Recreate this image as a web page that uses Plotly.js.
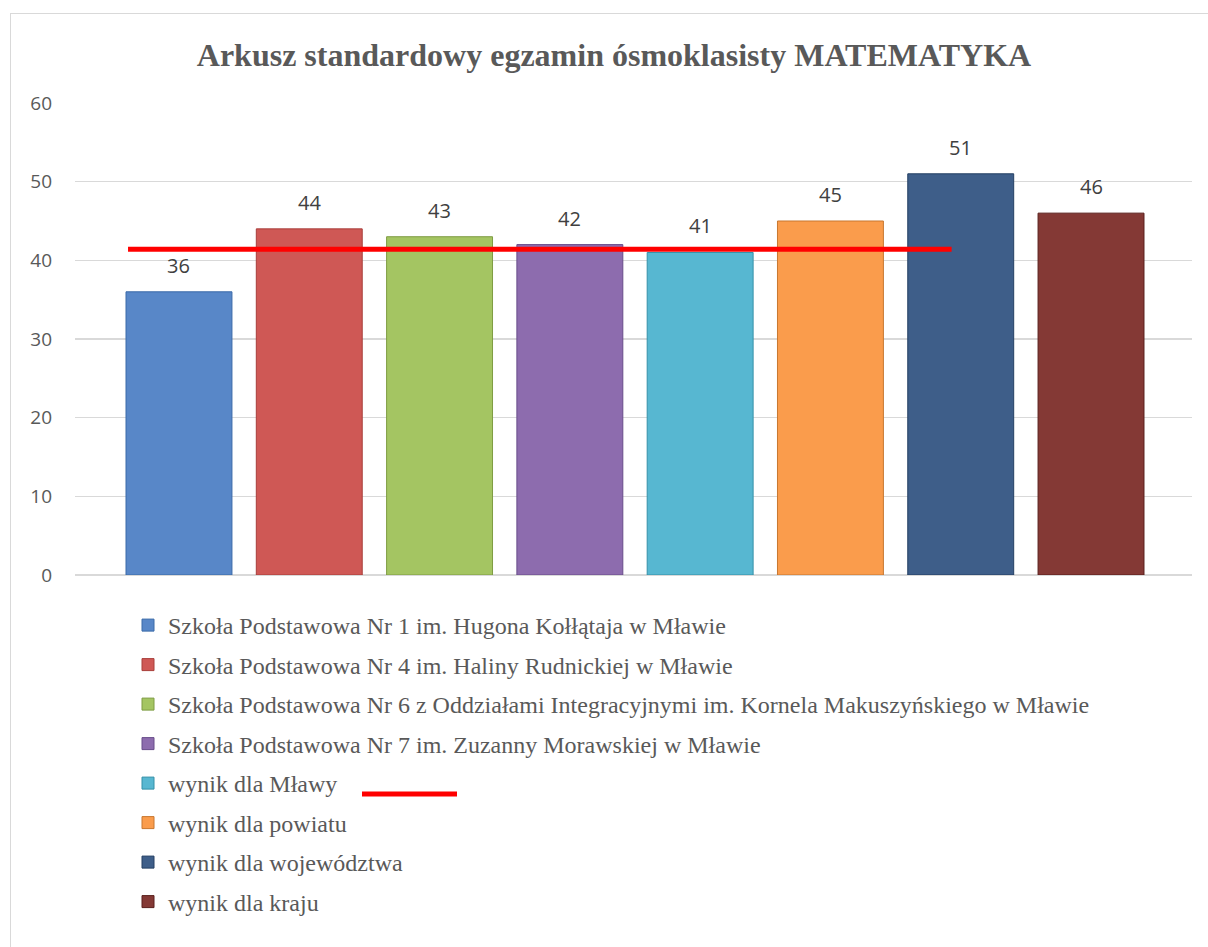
<!DOCTYPE html>
<html>
<head>
<meta charset="utf-8">
<script src="https://cdn.plot.ly/plotly-3.0.1.min.js"></script>
<style>
  html, body { margin: 0; padding: 0; background: #ffffff; }
  #wrap { position: relative; width: 1208px; height: 947px; overflow: hidden; }
  #chart { position: absolute; left: 0; top: 0; width: 1208px; height: 947px; }
  #frame { position: absolute; left: 10px; top: 13px; width: 1220px; height: 960px; border: 1px solid #d9d9d9; pointer-events: none; }
</style>
</head>
<body>
<div id="wrap">
  <div id="chart"></div>
  <div id="frame"></div>
</div>
<script>
// ---- data ----
const seriesNames = [
  "Szkoła Podstawowa Nr 1 im. Hugona Kołłątaja w Mławie",
  "Szkoła Podstawowa Nr 4 im. Haliny Rudnickiej w Mławie",
  "Szkoła Podstawowa Nr 6 z Oddziałami Integracyjnymi im. Kornela Makuszyńskiego w Mławie",
  "Szkoła Podstawowa Nr 7 im. Zuzanny Morawskiej w Mławie",
  "wynik dla Mławy",
  "wynik dla powiatu",
  "wynik dla województwa",
  "wynik dla kraju"
];
const values = [36, 44, 43, 42, 41, 45, 51, 46];
const mlawaLineLevel = 41.4;   // drawn red reference line
const yTicks = [0, 10, 20, 30, 40, 50, 60];
const titleText = "Arkusz standardowy egzamin ósmoklasisty MATEMATYKA";

// ---- styles ----
const fillColors = ["#5887C8", "#CF5855", "#A4C562", "#8D6CAE", "#57B7D1", "#FA9C4C", "#3E5E89", "#843935"];
const lineColors = ["#3A6AA8", "#A83E3B", "#7E9C43", "#684D8A", "#3590A8", "#C8772F", "#243F63", "#5A1F1C"];

// layout geometry (pixels)
const W = 1208, H = 947;
const ML = 75, MR = W - 1192, MT = 103, MB = H - 575;
const plotW = W - ML - MR, plotH = H - MT - MB;
const pxToPaperX = px => (px - ML) / plotW;
const pxToPaperY = py => (H - MB - py) / plotH;

const traces = seriesNames.map((name, i) => ({
  type: "bar",
  x: [seriesNames[i]],
  y: [values[i]],
  name: name,
  legendgroup: "g" + i,
  width: 0.813,
  marker: { color: fillColors[i], line: { color: lineColors[i], width: 1 } },
  hoverinfo: "name+y"
}));

const annotations = seriesNames.map((name, i) => ({
  x: seriesNames[i],
  y: values[i],
  xref: "x", yref: "y",
  text: String(values[i]),
  showarrow: false,
  yanchor: "bottom",
  yshift: 11,
  font: { family: "Open Sans, sans-serif", size: 20, color: "#404040" }
}));

const shapes = [
  {
    type: "line", xref: "x", yref: "y",
    x0: -0.391, x1: 5.93, y0: mlawaLineLevel, y1: mlawaLineLevel,
    line: { color: "#FF0000", width: 5 }
  },
  {
    type: "line", xref: "paper", yref: "paper",
    x0: pxToPaperX(362), x1: pxToPaperX(457),
    y0: pxToPaperY(794), y1: pxToPaperY(794),
    line: { color: "#FF0000", width: 5 }
  }
];

const layout = {
  width: W, height: H,
  margin: { l: ML, r: MR, t: MT, b: MB, pad: 0 },
  paper_bgcolor: "#ffffff",
  plot_bgcolor: "#ffffff",
  barmode: "overlay",
  showlegend: true,
  title: {
    text: "<b>" + titleText + "</b>",
    font: { family: "Liberation Serif, Times New Roman, serif", size: 32, color: "#595959" },
    x: 614 / W, xanchor: "center",
    y: 1 - 55 / H, yanchor: "middle", yref: "container"
  },
  xaxis: {
    type: "category",
    categoryorder: "array",
    categoryarray: seriesNames,
    range: [-0.798, 7.775],
    showticklabels: false,
    showgrid: false,
    zeroline: false,
    showline: false,
    ticks: ""
  },
  yaxis: {
    range: [0, 60],
    tickvals: yTicks,
    ticktext: yTicks.map(String),
    showgrid: true,
    gridcolor: "#d9d9d9",
    gridwidth: 1.3,
    zeroline: true,
    zerolinecolor: "#d9d9d9",
    zerolinewidth: 1.3,
    showline: false,
    ticks: "",
    ticklabelstandoff: 22,
    tickfont: { family: "Open Sans, sans-serif", size: 19, color: "#595959" }
  },
  legend: {
    orientation: "v",
    traceorder: "grouped",
    tracegroupgap: 5.3,
    x: pxToPaperX(128), xanchor: "left", xref: "paper",
    y: 1 - 603 / H, yanchor: "top", yref: "container",
    font: { family: "Liberation Serif, Times New Roman, serif", size: 24, color: "#595959" },
    itemwidth: 30,
    bgcolor: "rgba(0,0,0,0)"
  },
  annotations: annotations,
  shapes: shapes
};

Plotly.newPlot("chart", traces, layout, { displayModeBar: false, staticPlot: true });
</script>
</body>
</html>
